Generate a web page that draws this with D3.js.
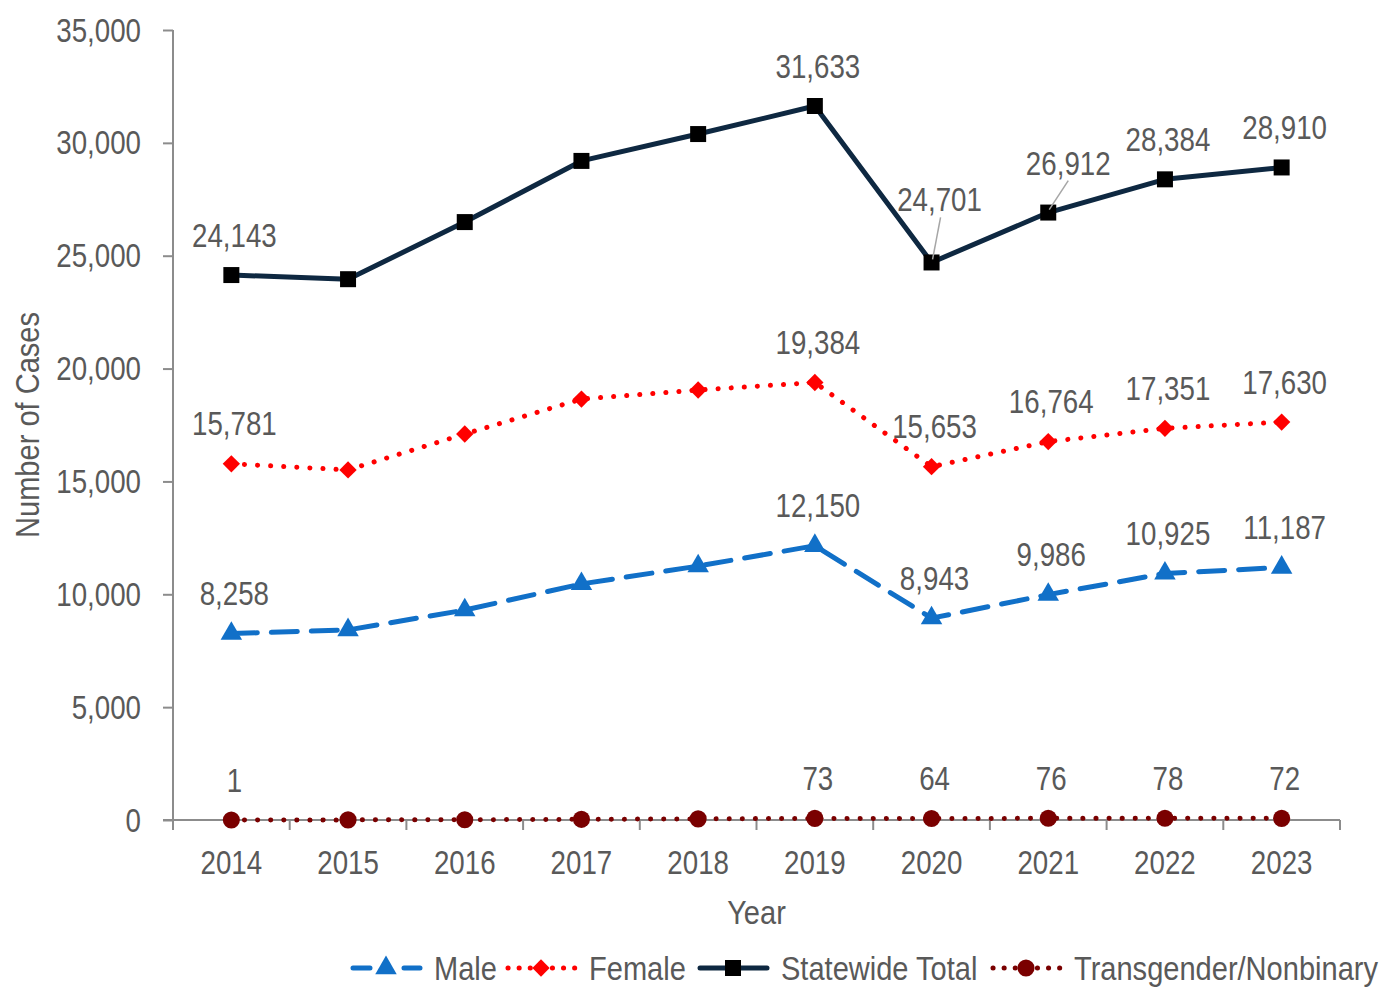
<!DOCTYPE html>
<html>
<head>
<meta charset="utf-8">
<script src="https://cdn.jsdelivr.net/npm/d3@7"></script>
<style>
  body { margin: 0; background: #fff; }
  text { font-family: "Liberation Sans", Arial, sans-serif; fill: #595959; font-size: 33px; }
</style>
</head>
<body>
<div class="chart"></div>
<script>
// data
var years = ["2014", "2015", "2016", "2017", "2018", "2019", "2020", "2021", "2022", "2023"];
var male = [8258, 8420, 9300, 10460, 11250, 12150, 8943, 9986, 10925, 11187];
var female = [15781, 15510, 17100, 18650, 19050, 19384, 15653, 16764, 17351, 17630];
var total = [24143, 23960, 26490, 29200, 30390, 31633, 24701, 26912, 28384, 28910];
var trans = [1, 5, 10, 30, 50, 73, 64, 76, 78, 72];
// which points carry a value label
var labelled = [true, false, false, false, false, true, true, true, true, true];
var yTicks = [0, 5000, 10000, 15000, 20000, 25000, 30000, 35000];

var svgWidth = 1394;
var svgHeight = 987;
var margin = { top: 30, right: 54, bottom: 167, left: 173 };
var width = svgWidth - margin.left - margin.right;
var height = svgHeight - margin.top - margin.bottom;

var svg = d3.select(".chart")
  .append("svg")
  .attr("width", svgWidth)
  .attr("height", svgHeight);

var chart = svg.append("g")
  .attr("transform", "translate(" + margin.left + "," + margin.top + ")");

// the original uses a narrow font; squeeze Liberation Sans horizontally
function addText(parent, x, y, str, anchor, rotate) {
  var sx = /^[\d,]+$/.test(str) ? 0.84 : 0.88;
  return parent.append("text")
    .attr("transform", "translate(" + x + "," + y + ")" + (rotate ? " rotate(" + rotate + ")" : "") + " scale(" + sx + ",1)")
    .attr("text-anchor", anchor || "middle")
    .attr("dy", "0.35em")
    .text(str);
}

var xScale = d3.scaleBand().domain(years).range([0, width]);
var yScale = d3.scaleLinear().domain([0, 35000]).range([height, 0]);

var axisColor = "#8c8c8c";

// y axis
var leftAxis = d3.axisLeft(yScale)
  .tickValues(yTicks)
  .tickFormat("")
  .tickSize(10);
var yAxisG = chart.append("g").call(leftAxis);
yAxisG.select(".domain").attr("stroke", axisColor).attr("stroke-width", 2).attr("d", "M0," + height + "V0");
yAxisG.selectAll(".tick line").attr("stroke", axisColor).attr("stroke-width", 2);
yTicks.forEach(function(t) {
  addText(chart, -32, yScale(t), d3.format(",")(t), "end");
});

// x axis: ticks at category boundaries
var boundaries = d3.range(years.length + 1).map(function(i) { return i * xScale.bandwidth(); });
var xAxisG = chart.append("g").attr("transform", "translate(0," + height + ")");
xAxisG.append("line")
  .attr("x1", -10).attr("x2", width)
  .attr("stroke", axisColor).attr("stroke-width", 2);
xAxisG.selectAll(".bt").data(boundaries).enter().append("line")
  .attr("x1", function(d) { return d; }).attr("x2", function(d) { return d; })
  .attr("y1", 0).attr("y2", 10)
  .attr("stroke", axisColor).attr("stroke-width", 2);
years.forEach(function(y) {
  addText(xAxisG, xScale(y) + xScale.bandwidth() / 2, 42, y);
});

// axis titles
addText(chart, -146, 395, "Number of Cases", "middle", -90);
addText(chart, width / 2, height + 92, "Year");

function cx(i) { return xScale(years[i]) + xScale.bandwidth() / 2; }

var series = [
  { name: "Male", values: male, color: "#1170c8", dash: "26,14", legendDash: "17,34", marker: "triangle", markerColor: "#1170c8" },
  { name: "Female", values: female, color: "#ff0000", dash: "0.1,13", legendDash: "0.1,11", marker: "diamond", markerColor: "#ff0000" },
  { name: "Statewide Total", values: total, color: "#0e2841", dash: null, legendDash: null, marker: "square", markerColor: "#000000" },
  { name: "Transgender/Nonbinary", values: trans, color: "#7a0000", dash: "0.1,13", legendDash: "0.1,11", marker: "circle", markerColor: "#7a0000" }
];

var symbolTypes = {
  triangle: d3.symbolTriangle,
  diamond: d3.symbolSquare,
  square: d3.symbolSquare,
  circle: d3.symbolCircle
};
var symbolSizes = { triangle: 200, diamond: 150, square: 256, circle: 230 };

function markerPath(type) {
  return d3.symbol().type(symbolTypes[type]).size(symbolSizes[type])();
}
function markerRotate(type) {
  return type === "diamond" ? " rotate(45)" : "";
}

var line = d3.line()
  .x(function(d, i) { return cx(i); })
  .y(function(d) { return yScale(d); });

// label nudges (a couple of labels were dragged aside, with leader lines)
var labelNudge = {
  "Statewide Total-6": { dx: 8, dy: -63, lx: 9, ly: -45 },
  "Statewide Total-7": { dx: 20, dy: -49, lx: 20, ly: -32 }
};

// draw order: trans, male, female, total
[3, 0, 1, 2].forEach(function(k) {
  var s = series[k];
  chart.append("path")
    .datum(s.values)
    .attr("fill", "none")
    .attr("stroke", s.color)
    .attr("stroke-width", 5)
    .attr("stroke-linecap", "round")
    .attr("stroke-linejoin", "round")
    .attr("stroke-dasharray", s.dash)
    .attr("d", line);

  chart.selectAll(".m" + k).data(s.values).enter().append("path")
    .attr("transform", function(d, i) { return "translate(" + cx(i) + "," + yScale(d) + ")" + markerRotate(s.marker); })
    .attr("d", markerPath(s.marker))
    .attr("fill", s.markerColor);
});

series.forEach(function(s) {
  s.values.forEach(function(v, i) {
    if (!labelled[i]) return;
    var n = labelNudge[s.name + "-" + i] || { dx: 3, dy: -40 };
    var px = cx(i), py = yScale(v);
    if (n.lx !== undefined) {
      chart.append("line")
        .attr("x1", px + 1).attr("y1", py - 3)
        .attr("x2", px + n.lx).attr("y2", py + n.ly)
        .attr("stroke", "#a6a6a6").attr("stroke-width", 1.5);
    }
    addText(chart, px + n.dx, py + n.dy, d3.format(",")(v));
  });
});

// legend
var legend = svg.append("g").attr("transform", "translate(0,968)");
var legendX = [350, 505, 697, 990];
series.forEach(function(s, k) {
  var g = legend.append("g").attr("transform", "translate(" + legendX[k] + ",0)");
  g.append("line")
    .attr("x1", 3).attr("x2", 70)
    .attr("stroke", s.color)
    .attr("stroke-width", 5)
    .attr("stroke-linecap", "round")
    .attr("stroke-dasharray", s.legendDash);
  g.append("path")
    .attr("transform", "translate(36,0)" + markerRotate(s.marker))
    .attr("d", markerPath(s.marker))
    .attr("fill", s.markerColor);
  addText(g, 84, 0, s.name, "start");
});
</script>
</body>
</html>
